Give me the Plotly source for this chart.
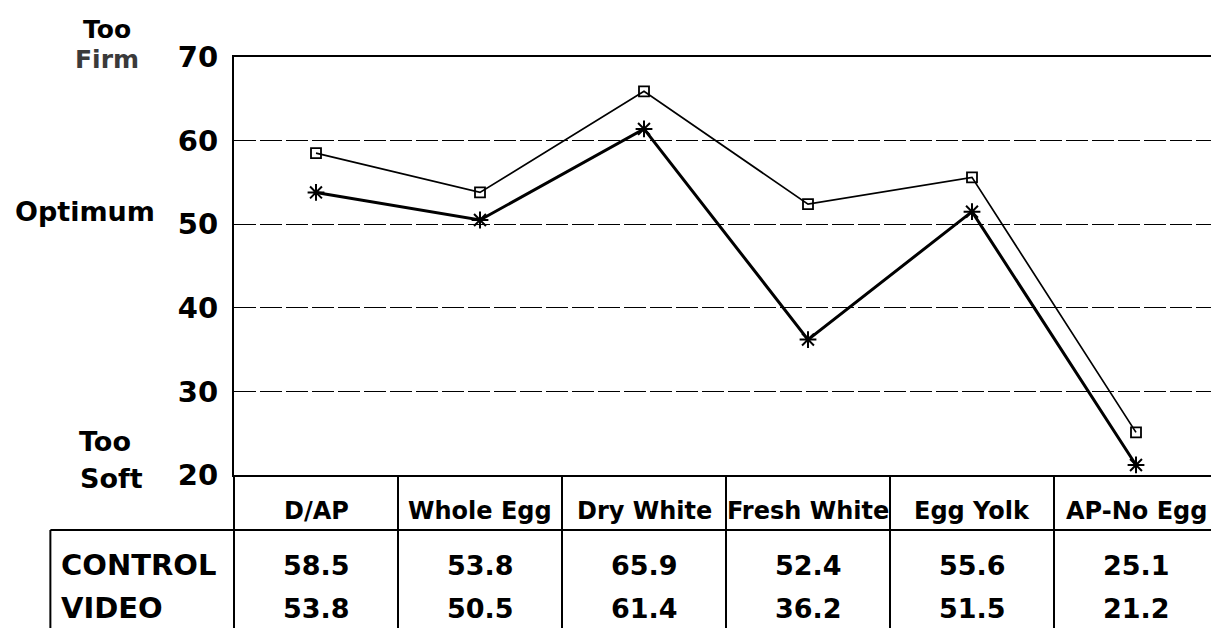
import plotly.graph_objects as go

categories = ["D/AP", "Whole Egg", "Dry White", "Fresh White", "Egg Yolk", "AP-No Egg"]
control = [58.5, 53.8, 65.9, 52.4, 55.6, 25.1]
video = [53.8, 50.5, 61.4, 36.2, 51.5, 21.2]
row_labels = ["CONTROL", "VIDEO"]
y_ticks = [20, 30, 40, 50, 60, 70]

FONT = "DejaVu Sans"
W, H = 1219, 628
L, R, T, B = 226, 7, 49, 161
plot_w = W - L - R
plot_h = H - T - B

def py(px):
    # pixel y (from top) -> paper y
    return (H - B - px) / plot_h

def dx(px):
    # pixel x -> x domain
    return (px - L) / plot_w

n = len(categories)
xs = list(range(n))

fig = go.Figure()
fig.add_trace(go.Scatter(
    x=xs, y=control, mode="lines+markers", name="CONTROL",
    line=dict(color="black", width=1.7),
    marker=dict(symbol="square-open", size=10, color="black", line=dict(width=1.8, color="black")),
))
fig.add_trace(go.Scatter(
    x=xs, y=video, mode="lines+markers", name="VIDEO",
    line=dict(color="black", width=3),
    marker=dict(symbol="asterisk-open", size=14, color="black", line=dict(width=2, color="black")),
))

shapes = []
line_style = dict(color="black", width=2)
# vertical dividers in the table (category boundaries)
for k in range(n + 1):
    shapes.append(dict(type="line", xref="x domain", yref="paper",
                       x0=k / n, x1=k / n, y0=0, y1=py(625), line=line_style))
# horizontal line under category row
shapes.append(dict(type="line", xref="x domain", yref="paper",
                   x0=dx(42), x1=1, y0=py(522), y1=py(522), line=line_style))
# bottom line
shapes.append(dict(type="line", xref="x domain", yref="paper",
                   x0=dx(42), x1=1, y0=py(625), y1=py(625), line=line_style))
# left edge of row-label box
shapes.append(dict(type="line", xref="x domain", yref="paper",
                   x0=dx(42), x1=dx(42), y0=py(522), y1=py(625), line=line_style))

annotations = []
for i, c in enumerate(categories):
    annotations.append(dict(x=i, y=py(503), xref="x", yref="paper", text=c, showarrow=False,
                            font=dict(family=FONT, size=24, color="black", weight="bold"),
                            xanchor="center", yanchor="middle"))
for lab, vals, ypx in [(row_labels[0], control, 557), (row_labels[1], video, 600)]:
    annotations.append(dict(x=dx(51), y=py(ypx), xref="x domain", yref="paper", text=lab,
                            showarrow=False, xanchor="left", yanchor="middle",
                            font=dict(family=FONT, size=29, color="black", weight="bold")))
    for i, v in enumerate(vals):
        annotations.append(dict(x=i, y=py(ypx), xref="x", yref="paper", text=f"{v:.1f}",
                                showarrow=False, xanchor="center", yanchor="middle",
                                font=dict(family=FONT, size=27, color="black", weight="bold")))

side_labels = [("Too", 99, 22, "black", 25), ("Firm", 99, 51, "#3a3a3a", 25),
               ("Optimum", 77, 203, "black", 27), ("Too", 97, 433, "black", 27),
               ("Soft", 103, 470, "black", 27)]
for txt, xpx, ypx, col, sz in side_labels:
    annotations.append(dict(x=dx(xpx), y=py(ypx), xref="x domain", yref="paper", text=txt,
                            showarrow=False, xanchor="center", yanchor="middle",
                            font=dict(family=FONT, size=sz, color=col, weight="bold")))

fig.update_layout(
    width=W, height=H,
    margin=dict(l=L, r=R, t=T, b=B),
    paper_bgcolor="white", plot_bgcolor="white",
    showlegend=False,
    shapes=shapes,
    annotations=annotations,
    font=dict(family=FONT, color="black"),
)
fig.update_xaxes(range=[-0.5, n - 0.5], showticklabels=False, showgrid=False, zeroline=False,
                 showline=True, mirror=True, linecolor="black", linewidth=2, ticks="")
fig.update_yaxes(range=[20, 70], tickvals=y_ticks, ticks="", ticklabelstandoff=8,
                 tickfont=dict(family=FONT, size=29, color="black", weight="bold"),
                 showgrid=True, gridcolor="black", gridwidth=1, griddash="22px,4px",
                 zeroline=False, showline=True, mirror=True, linecolor="black", linewidth=2)

fig.write_html("out.html")
